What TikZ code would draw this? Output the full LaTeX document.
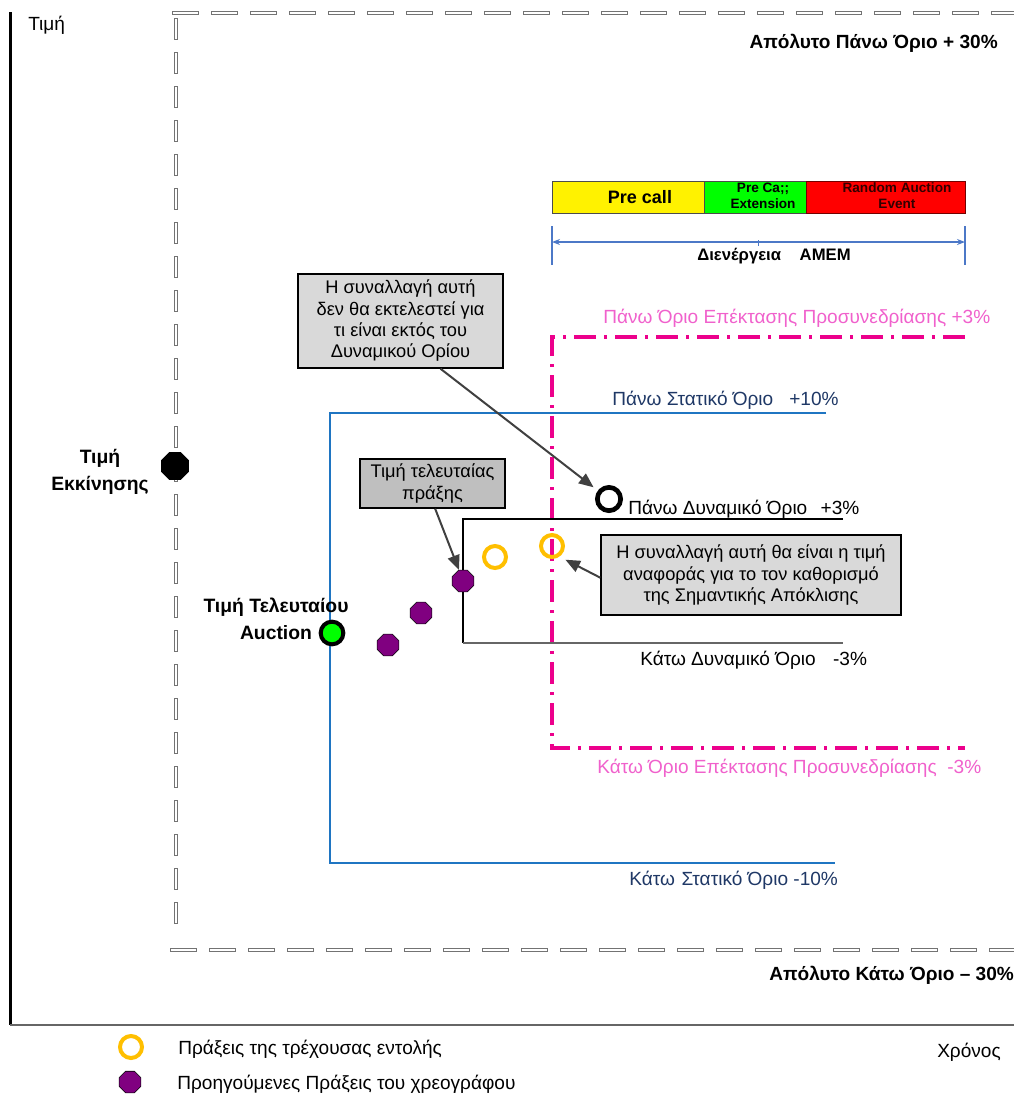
\documentclass[tikz,border=0pt]{standalone}
\usepackage{fontspec}
\setmainfont{Liberation Sans}
\usepackage{tikz}
\definecolor{statblue}{rgb}{0.12,0.46,0.76}
\definecolor{navy}{rgb}{0.12,0.22,0.40}
\definecolor{extpink}{rgb}{0.94,0.38,0.80}
\definecolor{ringyellow}{rgb}{1,0.75,0}
\definecolor{tradepurple}{rgb}{0.5,0,0.5}
\definecolor{dimblue}{rgb}{0.30,0.47,0.78}
\definecolor{boxgray}{rgb}{0.85,0.85,0.85}
\definecolor{boxdark}{rgb}{0.75,0.75,0.75}
\definecolor{arrowgray}{rgb}{0.25,0.25,0.25}
\usetikzlibrary{arrows.meta}
\usetikzlibrary{positioning,shapes.geometric}

\begin{document}
\begin{tikzpicture}[x=0.75pt,y=-0.75pt,
        every node/.style={inner sep=0pt,font=\fontsize{14.3}{17}\selectfont},
        boldlbl/.style={font=\bfseries\fontsize{14.5}{20}\selectfont,align=center},
        absdash/.style={black!55,line width=0.45pt,fill=white},
        curtrade/.style={circle,draw=ringyellow,line width=3pt,minimum size=16.5pt},
        prevtrade/.style={regular polygon,regular polygon sides=8,draw=black,line width=0.4pt,fill=tradepurple,minimum size=17.5pt},
        notebox/.style={draw=black,line width=1.1pt,fill=boxgray,align=center,font=\fontsize{13.7}{16}\selectfont},
        callarrow/.style={arrowgray,line width=1.5pt,-{Triangle[length=11pt,width=9pt]}}]

           \useasboundingbox (0,0) rectangle (1014,1097);

           \draw [black,line width= 1.8pt] (10.5,12) -- (10.5,1025);
           \draw [black!60,line width= 1pt] (10,1025) -- (1014,1025);

           \foreach \x in {172,211,...,1014}
               \draw [absdash] (\x,11.5) rectangle ++(26,3);
           \foreach \y in {18,52,...,920}
               \draw [absdash] (174,\y) rectangle ++(3,21);
           \foreach \x in {170,209,...,1014}
               \draw [absdash] (\x,948.5) rectangle ++(26,3);

           \node [anchor=west] (price) at (28,25){Τιμή};
           \node [anchor=east,font=\bfseries\fontsize{14.3}{17}\selectfont] (abstop) at (998,43){Απόλυτο Πάνω Όριο + 30\%};
           \node [anchor=west,font=\bfseries\fontsize{14.3}{17}\selectfont] (absbottom) at (769,975){Απόλυτο Κάτω Όριο – 30\%};
           \node [anchor=west] (time) at (937,1052){Χρόνος};

           \draw [black!70,fill=yellow] (552,181) rectangle (704,213);
           \draw [black!70,fill=green] (704,181) rectangle (806,213);
           \draw [red!45!black,fill=red] (806,181) rectangle (965,213);
           \node [font=\bfseries\fontsize{13.5}{15}\selectfont] (precall) at (640,197){Pre call};
           \node [align=center,font=\bfseries\fontsize{10.2}{12}\selectfont] (preext) at (763,196){Pre Ca;;\\Extension};
           \node [align=center,font=\bfseries\fontsize{10.2}{12}\selectfont,red!20!black] (randev) at (897,196){Random Auction\\Event};

           \draw [dimblue,line width= 0.8pt] (552,226) -- (552,265);
           \draw [dimblue,line width= 0.8pt] (965,226) -- (965,265);
           \draw [dimblue,line width= 0.8pt,{Stealth[length=6pt,width=4.5pt]}-{Stealth[length=6pt,width=4.5pt]}] (552,242) -- (965,242);
           \draw [dimblue,line width= 0.6pt] (758,240) -- (758,246);
           \node [font=\bfseries\fontsize{12.5}{14}\selectfont] (amem) at (774,256){Διενέργεια\hspace{14pt}AMEM};

           \draw [magenta,line width= 3pt,dash pattern=on 16.5pt off 6pt on 2.25pt off 6pt] (965,337) -- (552,337) -- (552,748) -- (965,748);
           \node [extpink,anchor=west] (extup) at (603,318){Πάνω Όριο Επέκτασης Προσυνεδρίασης +3\%};
           \node [extpink,anchor=west] (extlow) at (597,768){Κάτω Όριο Επέκτασης Προσυνεδρίασης\hspace{8pt}-3\%};

           \draw [statblue,line width= 2pt] (826,413) -- (330,413) -- (330,863) -- (835,863);
           \node [navy,anchor=west] (statup) at (612,400){Πάνω Στατικό Όριο\hspace{12pt}+10\%};
           \node [navy,anchor=west] (statlow) at (629,880){Κάτω\hspace{5pt}Στατικό Όριο -10\%};

           \draw [black,line width= 0.8pt] (843,519) -- (463,519) -- (463,643);
           \draw [black!60,line width= 1pt] (463,643) -- (843,643);
           \node [anchor=west] (dynup) at (628,509){Πάνω Δυναμικό Όριο\hspace{10pt}+3\%};
           \node [anchor=west] (dynlow) at (640,660){Κάτω Δυναμικό Όριο\hspace{13pt}-3\%};

           \node [regular polygon,regular polygon sides=8,fill=black,minimum size=22.5pt] (start) at (175,466){};
           \node [boldlbl] (startlbl) at (100,472){Τιμή\\Εκκίνησης};

           \node [circle,draw=black,line width=3pt,fill=green,minimum size=17pt] (lastauc) at (332,633){};
           \node [boldlbl] (lastlbl) at (276,619){Τιμή Τελευταίου\\Auction};

           \node [prevtrade] (p1) at (388,645){};
           \node [prevtrade] (p2) at (421,613){};
           \node [prevtrade] (p3) at (463,581){};
           \node [curtrade] (r1) at (495,557){};
           \node [curtrade] (r2) at (552,546){};
           \node [circle,draw=black,line width=3.5pt,minimum size=17.5pt] (outring) at (609,499){};

           \node [notebox,minimum width=153.75pt,minimum height=70.5pt] (noteout) at (400.5,321){Η συναλλαγή αυτή\\δεν θα εκτελεστεί για\\τι είναι εκτός του\\Δυναμικού Ορίου};
           \node [notebox,fill=boxdark,minimum width=108.75pt,minimum height=36.75pt] (notelast) at (432.5,483.5){Τιμή τελευταίας\\πράξης};
           \node [notebox,minimum width=225pt,minimum height=60pt] (noteref) at (751,575){Η συναλλαγή αυτή θα είναι η τιμή\\αναφοράς για το τον καθορισμό\\της Σημαντικής Απόκλισης};

           \draw [callarrow,shorten >=4pt] ([xshift=30pt]noteout.south) -- (outring.143);
           \draw [callarrow] ([xshift=2pt]notelast.south) -- (p3.110);
           \draw [callarrow,shorten >=5pt] ([yshift=-2pt]noteref.west) -- (r2.-55);

           \node [curtrade] (legcur) at (131,1047){};
           \node [prevtrade] (legprev) at (130,1082){};
           \node [right=25.5pt of legcur,yshift=-2pt] (legcurlbl) {Πράξεις της τρέχουσας εντολής};
           \node [right=27pt of legprev,yshift=-2pt] (legprevlbl) {Προηγούμενες Πράξεις του χρεογράφου};

        \end{tikzpicture}
\end{document}
